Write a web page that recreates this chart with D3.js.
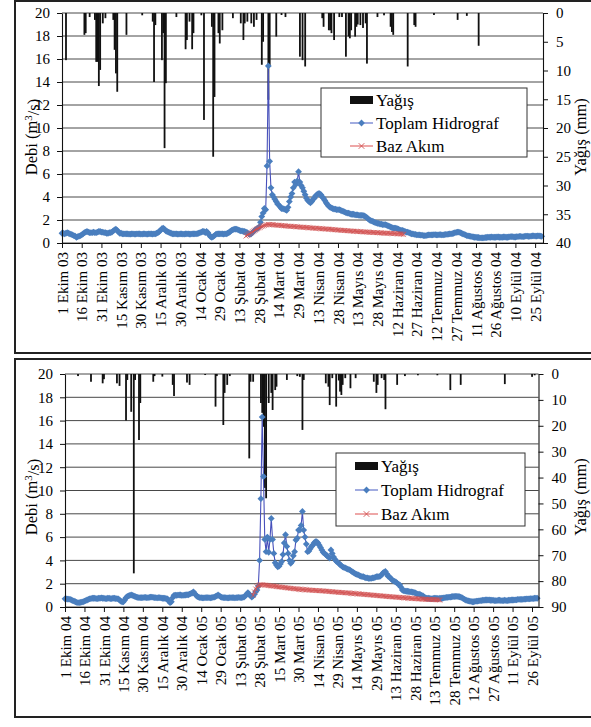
<!DOCTYPE html>
<html>
<head>
<meta charset="utf-8">
<script src="https://cdn.jsdelivr.net/npm/d3@7"></script>
<style>
  body { margin: 0; background: #fff; }
  svg { display: block; }
  text { font-family: "Liberation Serif", "Times New Roman", serif; fill: #000; }
</style>
</head>
<body>
<svg id="chart" width="591" height="727"></svg>
<script>
// ---------- data ----------
const monthNames = ["Ocak", "Şubat", "Mart", "Nisan", "Mayıs", "Haziran",
  "Temmuz", "Ağustos", "Eylül", "Ekim", "Kasım", "Aralık"];
const legendLabels = ["Yağış", "Toplam Hidrograf", "Baz Akım"];
const debiTicks = [0, 2, 4, 6, 8, 10, 12, 14, 16, 18, 20];
const rainTicks03 = [0, 5, 10, 15, 20, 25, 30, 35, 40];
const rainTicks04 = [0, 10, 20, 30, 40, 50, 60, 70, 80, 90];
const tickStep = 15; // days between date labels

// 2003-2004 : daily total hydrograph (m3/s), starting 1 Ekim 2003
const hydro03 = [
  0.85,0.85,0.8,0.85,0.9,0.85,0.8,0.75,0.7,0.65,
  0.6,0.5,0.55,0.6,0.65,0.7,0.8,0.9,0.95,1.0,
  0.95,0.9,0.9,0.9,0.95,0.9,0.9,0.95,1.0,1.0,
  0.95,0.95,0.9,0.9,0.85,0.85,0.9,0.9,0.95,1.05,
  1.15,1.2,1.1,0.95,0.85,0.85,0.8,0.8,0.8,0.8,
  0.8,0.78,0.78,0.8,0.8,0.78,0.78,0.8,0.8,0.8,
  0.78,0.78,0.8,0.8,0.78,0.78,0.8,0.8,0.8,0.78,
  0.8,0.8,0.85,0.9,1.0,1.1,1.25,1.3,1.2,1.05,
  1.0,0.95,0.9,0.85,0.8,0.8,0.8,0.8,0.78,0.78,
  0.8,0.8,0.78,0.78,0.8,0.8,0.8,0.78,0.78,0.8,
  0.8,0.8,0.8,0.82,0.85,0.9,0.95,1.0,1.0,0.9,
  1.0,0.9,0.7,0.55,0.5,0.55,0.65,0.75,0.8,0.8,
  0.8,0.8,0.8,0.78,0.8,0.8,0.85,0.9,1.0,1.1,
  1.15,1.2,1.2,1.2,1.15,1.1,1.05,1.05,1.0,1.0,
  0.95,0.9,0.8,0.75,0.8,0.9,1.05,1.15,1.2,1.3,
  1.4,1.8,2.3,2.6,3.0,2.9,6.7,15.4,7.1,4.8,
  4.2,4.0,3.8,3.6,3.4,3.3,3.15,3.0,3.0,2.95,
  2.9,2.85,3.1,3.6,4.0,4.3,4.8,5.3,5.1,5.4,
  6.2,5.3,5.0,4.8,4.5,4.2,3.9,3.7,3.6,3.5,
  3.6,3.8,3.9,4.1,4.2,4.3,4.3,4.2,4.0,3.9,
  3.7,3.5,3.35,3.2,3.1,3.05,3.0,2.95,2.95,2.9,
  2.9,2.9,2.85,2.8,2.75,2.7,2.65,2.6,2.6,2.55,
  2.5,2.5,2.5,2.45,2.45,2.45,2.4,2.4,2.4,2.4,
  2.35,2.3,2.2,2.1,2.0,1.95,1.9,1.85,1.8,1.75,
  1.7,1.7,1.65,1.65,1.6,1.6,1.6,1.55,1.5,1.45,
  1.4,1.35,1.3,1.3,1.3,1.25,1.2,1.15,1.1,1.1,
  1.05,1.0,0.95,0.95,0.9,0.85,0.8,0.8,0.75,0.75,
  0.7,0.7,0.7,0.68,0.68,0.65,0.65,0.65,0.68,0.7,
  0.7,0.7,0.7,0.72,0.72,0.7,0.7,0.72,0.72,0.7,
  0.7,0.72,0.75,0.75,0.78,0.8,0.8,0.82,0.85,0.9,
  0.92,0.95,0.95,0.9,0.85,0.8,0.75,0.7,0.65,0.62,
  0.6,0.58,0.55,0.52,0.5,0.5,0.48,0.48,0.45,0.45,
  0.45,0.45,0.48,0.48,0.5,0.5,0.5,0.52,0.5,0.5,
  0.5,0.52,0.52,0.5,0.5,0.5,0.52,0.52,0.5,0.5,
  0.52,0.55,0.55,0.55,0.52,0.52,0.55,0.55,0.58,0.58,
  0.55,0.55,0.58,0.6,0.6,0.58,0.58,0.6,0.62,0.62,
  0.6,0.6,0.62,0.62,0.6,0.58
];
// 2003-2004 : daily base flow, starting 18 Şubat 2004
const base03 = [
  0.6,0.68,0.75,0.82,0.9,0.98,1.05,1.12,1.2,1.26,1.32,1.38,1.43,1.48,1.52,1.56,1.59,1.62,
  1.61,1.60,1.59,1.58,1.57,1.56,1.55,1.54,1.53,1.52,1.51,1.50,1.49,1.48,1.47,1.46,1.45,1.44,1.43,1.43,1.42,
  1.41,1.40,1.39,1.38,1.37,1.36,1.35,1.35,1.34,1.33,1.32,1.31,1.30,1.29,1.28,1.28,1.27,1.26,1.25,1.24,1.23,1.22,1.22,1.21,1.20,
  1.19,1.18,1.17,1.16,1.15,1.14,1.13,1.12,1.11,1.10,1.10,1.09,1.08,1.07,1.06,1.05,1.04,1.03,1.02,1.02,1.01,1.00,0.99,0.99,0.98,
  0.97,0.96,0.96,0.95,0.94,0.94,0.93,0.92,0.92,0.91,0.90,0.90,0.89,0.88,0.88,0.87,0.86,0.86,0.85,0.85,0.84,0.84,0.83,0.83,0.82,0.82,
  0.81,0.80,0.79,0.78,0.77,0.75
];
// 2003-2004 : daily rainfall (mm)
const rain03 = [
  ["2003-10-04",8.2],["2003-10-18",3.8],["2003-10-19",3.5],["2003-10-22",0.7],["2003-10-26",1.2],
  ["2003-10-27",8.5],["2003-10-28",8.5],["2003-10-29",12.7],["2003-10-30",9.9],["2003-11-01",1.8],
  ["2003-11-03",0.9],["2003-11-09",1.2],["2003-11-10",6.4],["2003-11-11",10.5],["2003-11-12",13.7],
  ["2003-11-19",3.8],["2003-12-01",0.4],["2003-12-09",1.5],["2003-12-10",12],["2003-12-11",2.1],
  ["2003-12-16",8.2],["2003-12-17",3.5],["2003-12-18",23.5],["2003-12-19",12.2],["2003-12-27",0.7],
  ["2004-01-03",6.3],["2004-01-04",4.7],["2004-01-06",1.5],["2004-01-08",6.3],["2004-01-09",3.5],
  ["2004-01-15",0.4],["2004-01-17",18.6],["2004-01-23",2.4],["2004-01-24",25],["2004-01-25",14.6],
  ["2004-01-28",3.5],["2004-01-29",5.3],["2004-01-31",3.0],["2004-02-08",0.9],["2004-02-14",1.8],
  ["2004-02-16",4.7],["2004-02-17",1.8],["2004-02-19",1.5],["2004-02-22",1.8],["2004-02-24",2.4],
  ["2004-02-26",1.2],["2004-03-01",9.0],["2004-03-02",5.0],["2004-03-06",15.1],["2004-03-07",9.3],
  ["2004-03-12",4.1],["2004-03-16",0.35],["2004-03-19",0.7],["2004-03-30",7.6],["2004-04-01",8.2],
  ["2004-04-03",9.3],["2004-04-16",0.9],["2004-04-17",2.4],["2004-04-21",3.0],["2004-04-22",3.0],
  ["2004-04-23",3.5],["2004-04-25",4.7],["2004-04-29",0.7],["2004-05-01",0.7],["2004-05-04",7.6],
  ["2004-05-06",4.1],["2004-05-07",4.4],["2004-05-08",3.0],["2004-05-11",4.1],["2004-05-12",2.4],
  ["2004-05-13",2.0],["2004-05-15",2.1],["2004-05-17",2.6],["2004-05-19",1.8],["2004-05-20",8.8],
  ["2004-05-28",0.7],["2004-06-02",0.4],["2004-06-07",2.4],["2004-06-08",3.3],["2004-06-09",3.8],
  ["2004-06-20",9.3],["2004-06-25",2.1],["2004-06-26",2.4],["2004-07-10",0.35],["2004-07-28",1.2],
  ["2004-08-04",0.5],["2004-08-13",5.7]
];

// 2004-2005 : daily total hydrograph (m3/s), starting 1 Ekim 2004
const hydro04 = [
  0.7,0.7,0.68,0.68,0.65,0.6,0.55,0.5,0.45,0.4,
  0.37,0.37,0.4,0.42,0.45,0.5,0.55,0.6,0.65,0.7,
  0.72,0.75,0.75,0.75,0.72,0.72,0.75,0.75,0.78,0.75,
  0.75,0.72,0.72,0.75,0.75,0.72,0.72,0.75,0.75,0.72,
  0.72,0.7,0.6,0.5,0.45,0.45,0.6,0.8,0.9,0.95,
  1.0,1.03,1.0,0.95,0.9,0.85,0.82,0.8,0.8,0.8,
  0.8,0.82,0.82,0.8,0.8,0.82,0.85,0.85,0.82,0.8,
  0.8,0.78,0.8,0.8,0.78,0.75,0.75,0.75,0.72,0.7,
  0.5,0.37,0.45,0.8,1.0,1.02,1.0,1.02,1.03,1.03,
  1.0,1.0,1.02,1.03,1.05,1.05,1.1,1.15,1.2,1.3,
  1.15,1.0,0.9,0.85,0.8,0.8,0.78,0.78,0.8,0.8,
  0.8,0.8,0.78,0.8,0.82,0.85,0.9,0.95,1.03,0.95,
  0.88,0.82,0.8,0.8,0.8,0.78,0.78,0.8,0.8,0.8,
  0.8,0.78,0.8,0.8,0.82,0.8,0.8,0.82,0.85,0.95,
  1.1,1.23,1.1,0.95,0.85,0.95,1.1,1.3,1.45,1.8,
  4.0,9.3,16.3,11.2,5.8,4.75,6.0,4.7,5.8,7.6,
  5.8,4.6,3.8,3.6,3.45,3.5,3.7,3.9,4.5,5.5,
  6.2,5.2,4.6,4.0,3.75,3.9,4.4,4.75,5.75,5.9,
  6.6,6.6,7.0,8.2,6.6,6.0,5.4,4.75,4.8,5.0,
  5.2,5.3,5.5,5.6,5.6,5.5,5.3,5.1,4.9,4.7,
  4.6,4.5,4.4,4.3,4.2,4.9,4.6,4.3,4.1,3.95,
  3.85,3.75,3.65,3.55,3.45,3.4,3.35,3.3,3.25,3.2,
  3.15,3.05,3.0,2.9,2.85,2.8,2.75,2.7,2.65,2.6,
  2.6,2.55,2.5,2.5,2.45,2.45,2.45,2.5,2.5,2.55,
  2.6,2.6,2.6,2.65,2.75,2.9,3.0,3.05,2.85,2.65,
  2.6,2.45,2.35,2.25,2.2,2.15,2.05,1.95,1.9,1.7,
  1.45,1.4,1.38,1.35,1.35,1.33,1.3,1.3,1.28,1.25,
  1.2,1.15,1.1,1.1,1.05,1.0,0.95,0.85,0.78,0.75,
  0.75,0.73,0.72,0.72,0.73,0.75,0.75,0.73,0.72,0.75,
  0.75,0.75,0.78,0.8,0.82,0.82,0.85,0.85,0.88,0.9,
  0.9,0.92,0.92,0.9,0.88,0.85,0.8,0.72,0.65,0.6,
  0.55,0.52,0.5,0.48,0.45,0.45,0.48,0.5,0.5,0.52,
  0.55,0.55,0.58,0.58,0.6,0.6,0.6,0.6,0.58,0.58,
  0.58,0.55,0.55,0.55,0.58,0.58,0.55,0.55,0.55,0.58,
  0.55,0.55,0.58,0.58,0.6,0.6,0.6,0.62,0.62,0.65,
  0.65,0.65,0.65,0.65,0.68,0.68,0.7,0.7,0.7,0.72,
  0.72,0.72,0.75,0.75,0.75
];
// 2004-2005 : daily base flow, starting 23 Şubat 2005
const base04 = [
  1.0,1.3,1.55,1.75,1.85,1.9,1.92,
  1.91,1.90,1.88,1.87,1.86,1.84,1.83,1.81,1.80,1.79,1.77,1.76,1.74,1.73,1.72,1.70,1.69,1.67,1.66,1.65,1.63,1.62,1.60,1.59,1.58,1.56,1.55,
  1.54,1.53,1.52,1.51,1.50,1.50,1.49,1.48,1.47,1.46,1.45,1.44,1.43,1.43,1.42,1.41,1.40,1.40,1.39,1.38,1.38,
  1.37,1.36,1.35,1.34,1.33,1.32,1.31,1.30,1.29,1.28,1.27,1.26,1.25,1.25,1.24,1.23,1.22,1.21,1.20,1.19,1.18,1.17,1.16,1.16,1.15,
  1.14,1.13,1.12,1.11,1.10,1.09,1.08,1.07,1.06,1.05,1.04,1.03,1.02,1.01,1.00,0.99,0.98,0.97,0.96,0.95,0.94,0.93,0.92,0.91,0.90,
  0.89,0.88,0.87,0.86,0.86,0.85,0.84,0.83,0.82,0.81,0.80,0.79,0.78,0.78,0.77,0.76,0.75,0.74,0.73,0.72,0.72,0.71,0.70,0.69,0.69,0.68,
  0.67,0.67,0.66,0.66,0.65,0.65,0.64,0.64,0.63,0.63,0.62,0.62,0.61,0.60
];
// 2004-2005 : daily rainfall (mm)
const rain04 = [
  ["2004-10-11",0.8],["2004-10-21",3.0],["2004-10-30",3.6],["2004-10-31",2.0],["2004-11-10",3.6],
  ["2004-11-12",4.6],["2004-11-17",18],["2004-11-18",2.3],["2004-11-21",14.6],["2004-11-23",77],
  ["2004-11-24",2.3],["2004-11-27",25.5],["2004-11-28",11.2],["2004-12-08",3.0],["2004-12-09",0.8],
  ["2004-12-15",1.0],["2004-12-23",4.2],["2004-12-24",8.5],["2005-01-03",3.3],["2005-01-05",4.2],
  ["2005-01-17",0.4],["2005-01-25",12.6],["2005-01-26",0.8],["2005-01-31",19.7],["2005-02-01",7.3],
  ["2005-02-03",4.2],["2005-02-05",0.8],["2005-02-20",32.6],["2005-02-21",3.0],["2005-02-23",3.0],
  ["2005-03-01",11.2],["2005-03-02",15],["2005-03-03",20.4],["2005-03-04",44],["2005-03-05",48],
  ["2005-03-07",11.2],["2005-03-09",7.3],["2005-03-10",13.9],["2005-03-12",6.2],["2005-03-13",4.9],
  ["2005-03-21",2.3],["2005-03-29",0.8],["2005-03-31",1.1],["2005-04-02",21.6],["2005-04-03",2.3],
  ["2005-04-20",3.6],["2005-04-22",4.9],["2005-04-23",12],["2005-04-25",1.6],["2005-04-28",12.6],
  ["2005-04-30",2.5],["2005-05-01",6.8],["2005-05-02",8.1],["2005-05-03",4.2],["2005-05-05",1.6],
  ["2005-05-09",5.5],["2005-05-13",1.6],["2005-05-27",3.0],["2005-05-29",7.3],["2005-05-30",4.2],
  ["2005-06-02",1.6],["2005-06-04",2.3],["2005-06-05",13.6],["2005-06-14",4.2],["2005-06-20",0.8],
  ["2005-06-30",0.5],["2005-07-15",0.5],["2005-07-25",6.2],["2005-08-02",4.2],["2005-09-05",3.9],
  ["2005-09-26",1.1],["2005-09-28",0.5]
];

// ---------- drawing ----------
const FONT = "'Liberation Serif', 'Times New Roman', serif";
const parse = d3.timeParse("%Y-%m-%d");
const svg = d3.select("#chart");

const daily = (startStr, arr) => arr.map((v, i) => ({ date: d3.timeDay.offset(parse(startStr), i), v }));
const fmtDate = d => d.getDate() + " " + monthNames[d.getMonth()] + " " + d3.timeFormat("%y")(d);

function drawPanel(p) {
  const g = svg.append("g").attr("font-family", FONT);

  // frame round the panel
  g.append("rect")
    .attr("x", 15).attr("y", p.frameTop)
    .attr("width", 610).attr("height", p.frameBot - p.frameTop)
    .attr("fill", "none").attr("stroke", "#222").attr("stroke-width", 2);

  const x = d3.scaleTime().domain([parse(p.start), parse(p.end)]).range([p.x0, p.x1]);
  const y = d3.scaleLinear().domain([0, 20]).range([p.yBot, p.yTop]);
  const yR = d3.scaleLinear().domain([0, p.rainTicks[p.rainTicks.length - 1]]).range([p.yTop, p.yBot]);

  // gridlines
  g.append("g").selectAll("line").data(debiTicks).join("line")
    .attr("x1", p.x0).attr("x2", p.x1)
    .attr("y1", d => y(d)).attr("y2", d => y(d))
    .attr("stroke", "#333").attr("stroke-width", 0.9);

  // rainfall bars hanging from the top
  g.append("g").selectAll("rect").data(p.rain).join("rect")
    .attr("x", d => x(parse(d[0])) - 0.85)
    .attr("width", 1.8)
    .attr("y", p.yTop)
    .attr("height", d => yR(d[1]) - p.yTop)
    .attr("fill", "#111");

  const hydro = daily(p.start, p.hydro);
  const base = daily(p.baseStart, p.base);
  const line = d3.line().x(d => x(d.date)).y(d => y(d.v));

  // total hydrograph
  g.append("path").datum(hydro)
    .attr("d", line).attr("fill", "none")
    .attr("stroke", "#4750bb").attr("stroke-width", 1.1);
  g.append("g").selectAll("path").data(hydro).join("path")
    .attr("transform", d => `translate(${x(d.date)},${y(d.v)})`)
    .attr("d", "M0,-3.4L3.4,0L0,3.4L-3.4,0Z")
    .attr("fill", "#4a7ebe");

  // base flow
  g.append("path").datum(base)
    .attr("d", line).attr("fill", "none")
    .attr("stroke", "#e57373").attr("stroke-width", 1);
  g.append("g").selectAll("path").data(base).join("path")
    .attr("transform", d => `translate(${x(d.date)},${y(d.v)})`)
    .attr("d", "M-2.4,-2.4L2.4,2.4M-2.4,2.4L2.4,-2.4")
    .attr("stroke", "#d04e4e").attr("stroke-width", 0.8).attr("fill", "none");

  // axes
  const leftAxis = g.append("g")
    .attr("transform", `translate(${p.x0},0)`)
    .call(d3.axisLeft(y).tickValues(debiTicks).tickSize(5).tickSizeOuter(0).tickPadding(7));
  const rightAxis = g.append("g")
    .attr("transform", `translate(${p.x1},0)`)
    .call(d3.axisRight(yR).tickValues(p.rainTicks).tickSize(5).tickSizeOuter(0).tickPadding(8));
  const dateTicks = d3.range(0, 361, tickStep).map(i => d3.timeDay.offset(parse(p.start), i));
  const bottomAxis = g.append("g")
    .attr("transform", `translate(0,${p.yBot})`)
    .call(d3.axisBottom(x).tickValues(dateTicks).tickFormat(fmtDate).tickSize(5).tickSizeOuter(0));
  bottomAxis.selectAll("text")
    .attr("transform", "rotate(-90)")
    .attr("text-anchor", "end")
    .attr("x", -9).attr("y", 0).attr("dy", "0.34em")
    .attr("font-size", 15);

  [leftAxis, rightAxis, bottomAxis].forEach(a => {
    a.attr("font-family", FONT);
    a.selectAll("path.domain").attr("stroke", "#111").attr("stroke-width", 1.1);
    a.selectAll(".tick line").attr("stroke", "#111");
    a.selectAll("text").attr("fill", "#000");
  });
  leftAxis.attr("font-size", 15);
  rightAxis.attr("font-size", 15);

  // axis titles
  const lt = g.append("text")
    .attr("transform", `translate(31,${p.titleY}) rotate(-90)`)
    .attr("text-anchor", "middle").attr("dy", "0.35em")
    .attr("font-size", 16.5);
  lt.append("tspan").text("Debi (m");
  lt.append("tspan").text("3").attr("dy", "-0.45em").attr("font-size", 11);
  lt.append("tspan").text("/s)").attr("dy", "0.45em");

  g.append("text")
    .attr("transform", `translate(580,${p.titleY}) rotate(-90)`)
    .attr("text-anchor", "middle").attr("dy", "0.35em")
    .attr("font-size", 16.5)
    .text("Yağış (mm)");

  // legend
  const L = p.legend;
  const lg = g.append("g");
  lg.append("rect")
    .attr("x", L.x).attr("y", L.y).attr("width", L.w).attr("height", L.h)
    .attr("fill", "#fff").attr("stroke", "#333").attr("stroke-width", 1);
  const sx0 = L.sx, sx1 = L.sx + 23, sm = (sx0 + sx1) / 2;
  legendLabels.forEach((lab, i) => {
    const ry = L.rows[i];
    if (i === 0) {
      lg.append("rect").attr("x", sx0).attr("y", ry - 4).attr("width", 23).attr("height", 8).attr("fill", "#111");
    } else if (i === 1) {
      lg.append("line").attr("x1", sx0).attr("x2", sx1).attr("y1", ry).attr("y2", ry)
        .attr("stroke", "#6f7fd0").attr("stroke-width", 1.3);
      lg.append("path").attr("transform", `translate(${sm},${ry})`)
        .attr("d", "M0,-3.4L3.4,0L0,3.4L-3.4,0Z").attr("fill", "#4a7ebe");
    } else {
      lg.append("line").attr("x1", sx0).attr("x2", sx1).attr("y1", ry).attr("y2", ry)
        .attr("stroke", "#e06060").attr("stroke-width", 1.1);
      lg.append("path").attr("transform", `translate(${sm},${ry})`)
        .attr("d", "M-2.8,-2.8L2.8,2.8M-2.8,2.8L2.8,-2.8")
        .attr("stroke", "#d04e4e").attr("stroke-width", 0.9);
    }
    lg.append("text").attr("x", sx1 + 3).attr("y", ry).attr("dy", "0.35em")
      .attr("font-size", 17).text(lab);
  });
}

drawPanel({
  start: "2003-10-01", end: "2004-10-01", baseStart: "2004-02-18",
  hydro: hydro03, base: base03, rain: rain03, rainTicks: rainTicks03,
  x0: 62, x1: 543, yTop: 13, yBot: 243,
  frameTop: 1, frameBot: 353, titleY: 137,
  legend: { x: 321, y: 88, w: 206, h: 69, sx: 350, rows: [100, 123, 146] }
});

drawPanel({
  start: "2004-10-01", end: "2005-10-01", baseStart: "2005-02-23",
  hydro: hydro04, base: base04, rain: rain04, rainTicks: rainTicks04,
  x0: 65, x1: 538.5, yTop: 374, yBot: 607,
  frameTop: 359, frameBot: 717, titleY: 497,
  legend: { x: 336, y: 453, w: 189, h: 73, sx: 355, rows: [466, 490, 514] }
});
</script>
</body>
</html>
